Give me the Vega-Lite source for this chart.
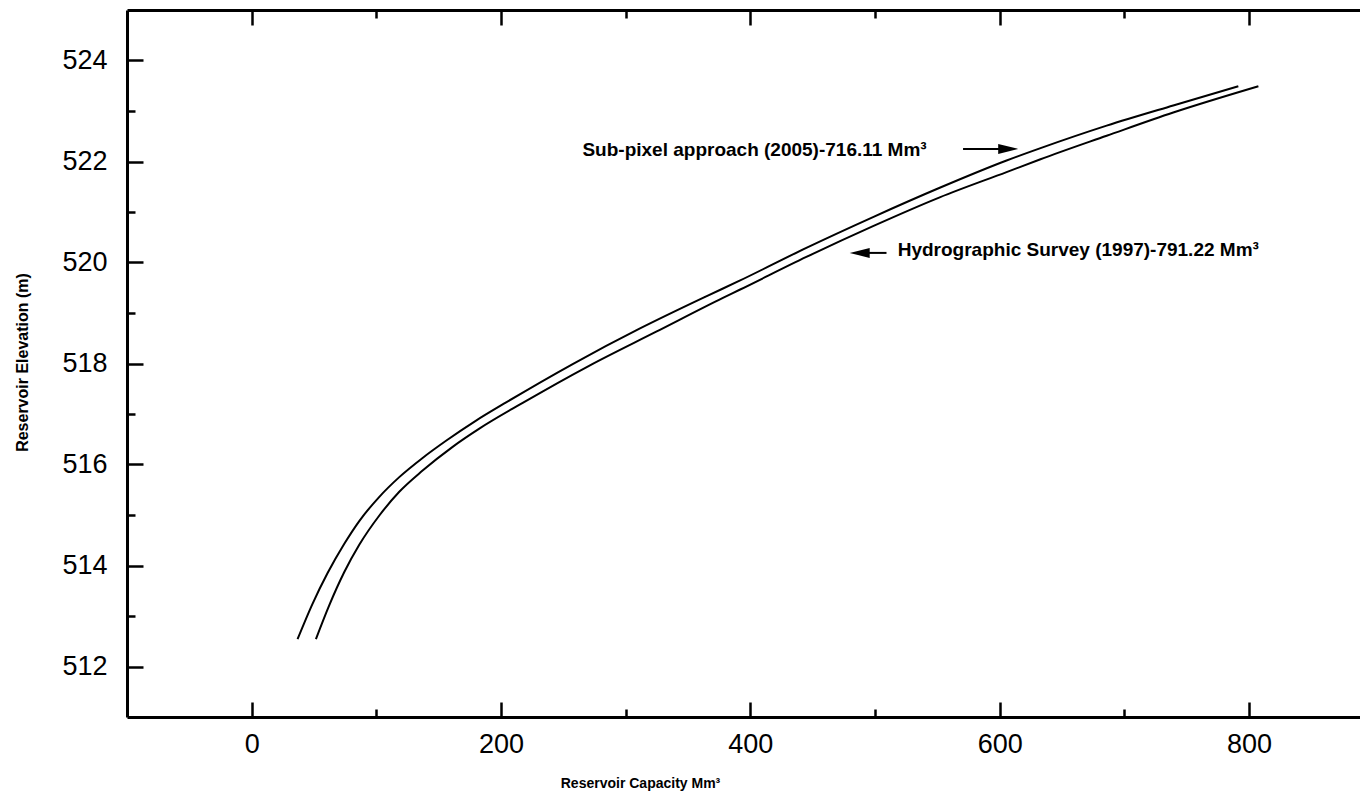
{
  "$schema": "https://vega.github.io/schema/vega-lite/v6.json",
  "width": 1233,
  "height": 707,
  "autosize": {"type": "none"},
  "padding": {"left": 127, "top": 10, "right": 0, "bottom": 82},
  "background": "white",
  "config": {"view": {"stroke": null}, "font": "Liberation Sans"},
  "datasets": {
    "curves": [
      {"series": "Sub-pixel approach (2005)", "capacity": 36.8, "elevation": 512.54},
      {"series": "Sub-pixel approach (2005)", "capacity": 48.8, "elevation": 513.24},
      {"series": "Sub-pixel approach (2005)", "capacity": 60.9, "elevation": 513.85},
      {"series": "Sub-pixel approach (2005)", "capacity": 74.3, "elevation": 514.43},
      {"series": "Sub-pixel approach (2005)", "capacity": 86.3, "elevation": 514.88},
      {"series": "Sub-pixel approach (2005)", "capacity": 102.4, "elevation": 515.36},
      {"series": "Sub-pixel approach (2005)", "capacity": 118.4, "elevation": 515.75},
      {"series": "Sub-pixel approach (2005)", "capacity": 137.1, "elevation": 516.13},
      {"series": "Sub-pixel approach (2005)", "capacity": 155.9, "elevation": 516.47},
      {"series": "Sub-pixel approach (2005)", "capacity": 180.0, "elevation": 516.87},
      {"series": "Sub-pixel approach (2005)", "capacity": 204.1, "elevation": 517.23},
      {"series": "Sub-pixel approach (2005)", "capacity": 257.5, "elevation": 517.99},
      {"series": "Sub-pixel approach (2005)", "capacity": 311.1, "elevation": 518.69},
      {"series": "Sub-pixel approach (2005)", "capacity": 364.6, "elevation": 519.33},
      {"series": "Sub-pixel approach (2005)", "capacity": 391.4, "elevation": 519.64},
      {"series": "Sub-pixel approach (2005)", "capacity": 444.9, "elevation": 520.29},
      {"series": "Sub-pixel approach (2005)", "capacity": 498.4, "elevation": 520.90},
      {"series": "Sub-pixel approach (2005)", "capacity": 551.9, "elevation": 521.48},
      {"series": "Sub-pixel approach (2005)", "capacity": 605.5, "elevation": 522.02},
      {"series": "Sub-pixel approach (2005)", "capacity": 632.2, "elevation": 522.26},
      {"series": "Sub-pixel approach (2005)", "capacity": 685.8, "elevation": 522.71},
      {"series": "Sub-pixel approach (2005)", "capacity": 739.2, "elevation": 523.11},
      {"series": "Sub-pixel approach (2005)", "capacity": 791.4, "elevation": 523.49},
      {"series": "Hydrographic Survey (1997)", "capacity": 51.5, "elevation": 512.54},
      {"series": "Hydrographic Survey (1997)", "capacity": 62.2, "elevation": 513.21},
      {"series": "Hydrographic Survey (1997)", "capacity": 74.3, "elevation": 513.87},
      {"series": "Hydrographic Survey (1997)", "capacity": 86.3, "elevation": 514.41},
      {"series": "Hydrographic Survey (1997)", "capacity": 102.4, "elevation": 514.99},
      {"series": "Hydrographic Survey (1997)", "capacity": 118.4, "elevation": 515.46},
      {"series": "Hydrographic Survey (1997)", "capacity": 137.1, "elevation": 515.88},
      {"series": "Hydrographic Survey (1997)", "capacity": 161.2, "elevation": 516.35},
      {"series": "Hydrographic Survey (1997)", "capacity": 182.6, "elevation": 516.71},
      {"series": "Hydrographic Survey (1997)", "capacity": 217.4, "elevation": 517.22},
      {"series": "Hydrographic Survey (1997)", "capacity": 271.0, "elevation": 517.96},
      {"series": "Hydrographic Survey (1997)", "capacity": 324.5, "elevation": 518.63},
      {"series": "Hydrographic Survey (1997)", "capacity": 378.0, "elevation": 519.30},
      {"series": "Hydrographic Survey (1997)", "capacity": 391.4, "elevation": 519.46},
      {"series": "Hydrographic Survey (1997)", "capacity": 444.9, "elevation": 520.11},
      {"series": "Hydrographic Survey (1997)", "capacity": 498.4, "elevation": 520.72},
      {"series": "Hydrographic Survey (1997)", "capacity": 551.9, "elevation": 521.29},
      {"series": "Hydrographic Survey (1997)", "capacity": 605.5, "elevation": 521.79},
      {"series": "Hydrographic Survey (1997)", "capacity": 632.2, "elevation": 522.04},
      {"series": "Hydrographic Survey (1997)", "capacity": 685.8, "elevation": 522.51},
      {"series": "Hydrographic Survey (1997)", "capacity": 739.2, "elevation": 522.97},
      {"series": "Hydrographic Survey (1997)", "capacity": 807.5, "elevation": 523.49}
    ],
    "labels": [
      {"label": "Sub-pixel approach (2005)-716.11 Mm³", "capacity": 265.3, "elevation": 522.23},
      {"label": "Hydrographic Survey (1997)-791.22 Mm³", "capacity": 518.2, "elevation": 520.24}
    ],
    "arrows": [
      {"dir": "right", "capacity": 570.6, "capacity2": 602.0, "head": 606.8, "elevation": 522.25},
      {"dir": "left", "capacity": 486.0, "capacity2": 509.2, "head": 487.7, "elevation": 520.19}
    ]
  },
  "encoding": {
    "y": {
      "field": "elevation", "type": "quantitative",
      "scale": {"domain": [511, 525], "nice": false, "zero": false},
      "axis": {
        "orient": "left",
        "values": [512, 513, 514, 515, 516, 517, 518, 519, 520, 521, 522, 523, 524],
        "labelExpr": "datum.value % 2 === 0 ? datum.label : ''",
        "tickSize": {"condition": {"test": "datum.value % 2 === 0", "value": -16}, "value": -8},
        "tickWidth": 2.5, "tickColor": "black",
        "domainWidth": 3, "domainColor": "black",
        "labelFontSize": 27, "labelColor": "black", "labelPadding": 36,
        "labelFlush": false, "labelOverlap": false,
        "grid": false,
        "title": "Reservoir Elevation (m)",
        "titleFontSize": 16, "titleFontWeight": "bold", "titleColor": "black",
        "titleX": -105, "titleY": 352, "titleAlign": "center", "titleBaseline": "middle", "titleAngle": -90
      }
    }
  },
  "resolve": {"axis": {"x": "independent"}},
  "layer": [
    {
      "data": {"name": "curves"},
      "mark": {"type": "line", "color": "black", "strokeWidth": 2, "interpolate": "monotone"},
      "encoding": {
        "x": {
          "field": "capacity", "type": "quantitative",
          "scale": {"domain": [-100, 889], "nice": false, "zero": false},
          "axis": {
            "orient": "bottom",
            "values": [0, 100, 200, 300, 400, 500, 600, 700, 800],
            "labelExpr": "datum.value % 200 === 0 ? datum.label : ''",
            "tickSize": {"condition": {"test": "datum.value % 200 === 0", "value": -15}, "value": -8},
            "tickWidth": 2.5, "tickColor": "black",
            "domainWidth": 3, "domainColor": "black",
            "labelFontSize": 27, "labelColor": "black", "labelPadding": 29,
            "labelFlush": false, "labelOverlap": false,
            "grid": false,
            "title": "Reservoir Capacity Mm³",
            "titleFontSize": 14, "titleFontWeight": "bold", "titleColor": "black",
            "titleX": 513, "titleY": 66, "titleAlign": "center", "titleBaseline": "middle", "titleAnchor": null
          }
        },
        "detail": {"field": "series", "type": "nominal"}
      }
    },
    {
      "data": {"name": "labels"},
      "mark": {"type": "text", "align": "left", "baseline": "middle", "fontSize": 19, "fontWeight": "bold", "color": "black", "font": "Liberation Sans"},
      "encoding": {
        "x": {
          "field": "capacity", "type": "quantitative",
          "axis": {
            "orient": "top",
            "values": [0, 100, 200, 300, 400, 500, 600, 700, 800],
            "labels": false,
            "tickSize": {"condition": {"test": "datum.value % 200 === 0", "value": -15}, "value": -8},
            "tickWidth": 2.5, "tickColor": "black",
            "domainWidth": 3, "domainColor": "black",
            "grid": false, "title": null
          }
        },
        "text": {"field": "label", "type": "nominal"}
      }
    },
    {
      "data": {"name": "arrows"},
      "mark": {"type": "rule", "color": "black", "strokeWidth": 2},
      "encoding": {
        "x": {"field": "capacity", "type": "quantitative", "axis": null},
        "x2": {"field": "capacity2"}
      }
    },
    {
      "data": {"name": "arrows"},
      "transform": [{"filter": "datum.dir === 'right'"}],
      "mark": {"type": "point", "filled": true, "color": "black", "opacity": 1, "size": 400, "shape": "M -1 -0.5 L 1 0 L -1 0.5 Z", "strokeWidth": 0},
      "encoding": {
        "x": {"field": "head", "type": "quantitative", "axis": null}
      }
    },
    {
      "data": {"name": "arrows"},
      "transform": [{"filter": "datum.dir === 'left'"}],
      "mark": {"type": "point", "filled": true, "color": "black", "opacity": 1, "size": 400, "shape": "M 1 -0.5 L -1 0 L 1 0.5 Z", "strokeWidth": 0},
      "encoding": {
        "x": {"field": "head", "type": "quantitative", "axis": null}
      }
    }
  ]
}
